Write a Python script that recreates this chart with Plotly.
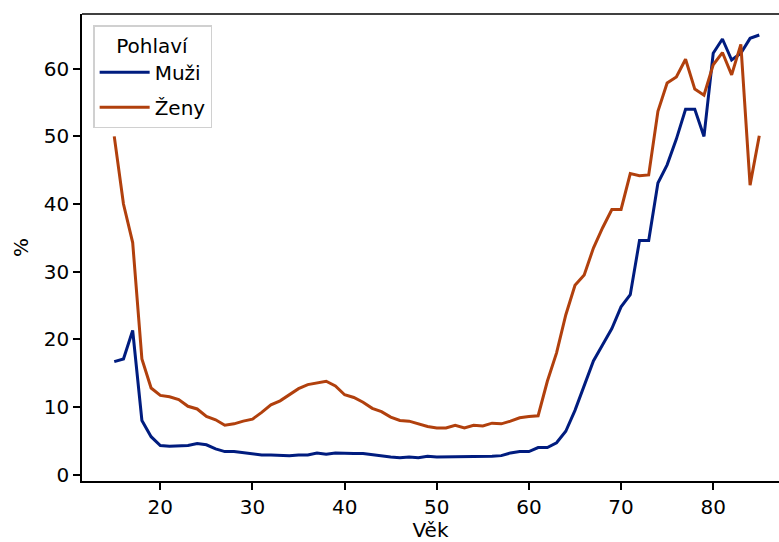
import plotly.graph_objects as go

ages = list(range(15, 86))
muzi = [16.7, 17.1, 21.3, 8.0, 5.6, 4.3, 4.2, 4.2, 4.3, 4.6,
        4.4, 3.8, 3.4, 3.4, 3.2, 3.0, 2.9, 2.9, 2.8, 2.8,
        2.9, 2.9, 3.2, 3.0, 3.2, 3.1, 3.1, 3.1, 2.9, 2.8,
        2.6, 2.5, 2.6, 2.5, 2.7, 2.6, 2.6, 2.6, 2.7, 2.7,
        2.7, 2.7, 2.8, 3.2, 3.4, 3.4, 4.0, 4.0, 4.7, 6.4,
        9.5, 13.3, 16.8, 19.2, 21.6, 24.8, 26.6, 34.6, 34.6, 43.1,
        45.8, 49.6, 54.0, 54.0, 50.0, 62.3, 64.4, 61.3, 62.3, 64.5,
        65.0]
zeny = [50.0, 40.0, 34.3, 17.1, 12.8, 11.7, 11.5, 11.1, 10.1, 9.7,
        8.6, 8.1, 7.3, 7.5, 7.9, 8.2, 9.2, 10.3, 10.9, 11.8,
        12.7, 13.3, 13.6, 13.8, 13.1, 11.8, 11.4, 10.7, 9.8, 9.3,
        8.5, 8.0, 7.9, 7.5, 7.1, 6.9, 6.9, 7.3, 6.9, 7.3,
        7.2, 7.6, 7.5, 7.9, 8.4, 8.6, 8.7, 13.8, 18.0, 23.6,
        28.0, 29.5, 33.5, 36.5, 39.2, 39.2, 44.5, 44.2, 44.3, 53.7,
        57.9, 58.8, 61.4, 57.0, 56.1, 60.6, 62.4, 59.1, 63.6, 42.8,
        50.1]
x_ticks = [20, 30, 40, 50, 60, 70, 80]
y_ticks = [0, 10, 20, 30, 40, 50, 60]

FONT = "DejaVu Sans"
fig = go.Figure()
fig.add_trace(go.Scatter(x=ages, y=muzi, mode="lines", name="Muži", legendgroup="m",
                         line=dict(color="#001c7f", width=3)))
fig.add_trace(go.Scatter(x=ages, y=zeny, mode="lines", name="Ženy", legendgroup="z",
                         line=dict(color="#b1400d", width=3)))

axis_common = dict(showline=True, linecolor="black", linewidth=1.6,
                   ticks="outside", ticklen=7, tickwidth=1.5, tickcolor="black",
                   showgrid=False, zeroline=False, automargin=False,
                   tickfont=dict(family=FONT, size=20, color="black"))
fig.update_xaxes(range=[11.5, 87.14], tickvals=x_ticks,
                 title=dict(text="Věk", font=dict(family=FONT, size=20, color="black"), standoff=9),
                 **axis_common)
fig.update_yaxes(range=[-0.95, 68.1], tickvals=y_ticks,
                 title=dict(text="%", font=dict(family=FONT, size=20, color="black"), standoff=10),
                 **axis_common)

fig.add_shape(type="line", xref="paper", yref="paper", x0=0, x1=1, y0=1, y1=1,
              line=dict(color="black", width=1.6))

fig.update_layout(
    width=779, height=542,
    margin=dict(l=82, r=0, t=14, b=61),
    plot_bgcolor="white", paper_bgcolor="white",
    font=dict(family=FONT, size=20, color="black"),
    legend=dict(x=0.016, y=0.976, xanchor="left", yanchor="top",
                bgcolor="rgba(255,255,255,0.8)", bordercolor="#d0d0d0", borderwidth=1.5,
                title=dict(text="Pohlaví", side="top center", font=dict(family=FONT, size=20)),
                font=dict(family=FONT, size=20), itemwidth=50, tracegroupgap=6),
)
fig.write_html("out.html", config={"displayModeBar": False},
               post_script="document.body.style.margin='0';document.body.style.overflow='hidden';")
